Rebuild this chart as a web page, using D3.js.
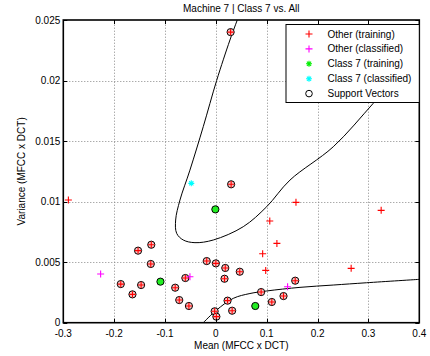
<!DOCTYPE html>
<html>
<head>
<meta charset="utf-8">
<script src="https://cdn.jsdelivr.net/npm/d3@7"></script>
<style>
body { margin:0; background:#fff; }
text { font-family: "Liberation Sans", Arial, Helvetica, sans-serif; }
</style>
</head>
<body>
<div id="container"></div>
<script>
// data (mean, variance)
const otherTrainSV = [
  [0.029,0.0240],[0.030,0.01143],[-0.153,0.00595],[-0.127,0.00644],[-0.128,0.00485],
  [-0.187,0.00319],[-0.164,0.00234],[-0.147,0.00311],[-0.080,0.00289],[-0.060,0.00369],
  [-0.072,0.00187],[-0.053,0.00138],[-0.018,0.00509],[0.000,0.00490],[0.0185,0.00452],
  [0.017,0.00363],[0.047,0.00421],[-0.0024,0.00094],[0.001,0.0005],[0.023,0.00182],
  [0.032,0.00099],[0.089,0.00253],[0.110,0.00171],[0.133,0.0022],[0.156,0.00347]
];
const otherTrain = [
  [-0.290,0.01013],[0.1575,0.00994],[0.106,0.0084],[0.120,0.00655],[0.092,0.0057],
  [0.098,0.00432],[0.266,0.00449],[0.325,0.00928]
];
const otherClassified = [[-0.2266,0.00402],[-0.051,0.0038],[0.141,0.00297]];
const class7Train = [[-0.001,0.00936],[-0.109,0.00339],[0.0775,0.00138]];
const class7Classified = [[-0.0483,0.01151]];

// decision boundary
const boundaryUpper = [
  [0.0421,0.0250],[0.0277,0.02335],[0.0015,0.0200],[-0.0248,0.01619],[-0.0510,0.01260],
  [-0.0706,0.01013],[-0.0791,0.00848],[-0.0771,0.00738],[-0.0641,0.00683],[-0.0411,0.00661],
  [-0.0051,0.00683],[0.0539,0.00793],[0.0999,0.00958],[0.1457,0.01178],[0.2308,0.01453],
  [0.3095,0.01812],[0.36,0.0205]
];
const boundaryLower = [
  [-0.0248,0],[0.0015,0.00105],[0.0342,0.00201],[0.067,0.00241],[0.0999,0.00262],
  [0.1654,0.00292],[0.2308,0.00311],[0.2965,0.0033],[0.4,0.00358]
];

const xTicks = [-0.3,-0.2,-0.1,0,0.1,0.2,0.3,0.4];
const yTicks = [0,0.005,0.01,0.015,0.02,0.025];
const legendLabels = ["Other (training)","Other (classified)","Class 7 (training)","Class 7 (classified)","Support Vectors"];

const width = 430, height = 356;
const m = {left:63.3, top:20, right:10.7, bottom:33.3};

const x = d3.scaleLinear().domain([-0.3,0.4]).range([m.left, width-m.right]);
const y = d3.scaleLinear().domain([0,0.025]).range([height-m.bottom, m.top]);
const px = v => Math.round(v)+0.5;

const svg = d3.select("#container")
  .append("svg")
    .attr("width",width)
    .attr("height",height);

// grid
const grid = svg.append("g")
    .attr("stroke","#888")
    .attr("stroke-width",1)
    .attr("stroke-dasharray","1,2");
grid.selectAll("line.gx")
  .data(xTicks.slice(1,-1))
  .join("line")
    .attr("class","gx")
    .attr("x1",d=>px(x(d))).attr("x2",d=>px(x(d)))
    .attr("y1",y(0)).attr("y2",y(0.025));
grid.selectAll("line.gy")
  .data(yTicks.slice(1,-1))
  .join("line")
    .attr("class","gy")
    .attr("y1",d=>px(y(d))).attr("y2",d=>px(y(d)))
    .attr("x1",x(-0.3)).attr("x2",x(0.4));

// boundaries
const line = d3.line().x(d=>x(d[0])).y(d=>y(d[1])).curve(d3.curveCatmullRom);
svg.append("defs").append("clipPath").attr("id","clip")
  .append("rect").attr("x",x(-0.3)).attr("y",y(0.025))
  .attr("width",x(0.4)-x(-0.3)).attr("height",y(0)-y(0.025));
svg.append("g")
    .attr("clip-path","url(#clip)")
    .attr("fill","none")
    .attr("stroke","#000")
    .attr("stroke-width",1)
  .selectAll("path")
  .data([boundaryUpper,boundaryLower])
  .join("path")
    .attr("d",line);

function plus(g, data, color, r) {
  g.selectAll("path.p"+color.slice(1))
    .data(data)
    .join("path")
      .attr("d",d=>`M${x(d[0])-r},${y(d[1])}h${2*r}M${x(d[0])},${y(d[1])-r}v${2*r}`)
      .attr("stroke",color)
      .attr("stroke-width",1.1)
      .attr("fill","none");
}
function star(g, cx, cy, color, r) {
  const a = r*0.7;
  g.append("path")
    .attr("d",`M${cx-r},${cy}h${2*r}M${cx},${cy-r}v${2*r}M${cx-a},${cy-a}l${2*a},${2*a}M${cx-a},${cy+a}l${2*a},${-2*a}`)
    .attr("stroke",color).attr("stroke-width",1.1).attr("fill","none");
}

const marks = svg.append("g");
// support vector circles
marks.selectAll("circle.sv")
  .data(otherTrainSV)
  .join("circle")
    .attr("class","sv")
    .attr("cx",d=>x(d[0])).attr("cy",d=>y(d[1]))
    .attr("r",3.6)
    .attr("fill","#f7c4c4")
    .attr("stroke","#000")
    .attr("stroke-width",1);
plus(marks, otherTrainSV, "#ff0000", 3.2);
plus(marks, otherTrain, "#ff0000", 3.5);
plus(marks, otherClassified, "#ff00ff", 3.5);
marks.selectAll("circle.c7")
  .data(class7Train)
  .join("circle")
    .attr("class","c7")
    .attr("cx",d=>x(d[0])).attr("cy",d=>y(d[1]))
    .attr("r",3.6)
    .attr("fill","#22ee22")
    .attr("stroke","#000")
    .attr("stroke-width",1);
class7Classified.forEach(d=>star(marks, x(d[0]), y(d[1]), "#00ffff", 3));

// axes box + inward ticks
const ax = svg.append("g").attr("font-size",10).attr("fill","#000");
ax.append("rect")
  .attr("x",x(-0.3)).attr("y",y(0.025))
  .attr("width",x(0.4)-x(-0.3)).attr("height",y(0)-y(0.025))
  .attr("fill","none").attr("stroke","#000").attr("stroke-width",1.6);
ax.selectAll("path.xt")
  .data(xTicks)
  .join("path")
    .attr("d",d=>`M${px(x(d))},${y(0)}v-4M${px(x(d))},${y(0.025)}v4`)
    .attr("stroke","#000");
ax.selectAll("path.yt")
  .data(yTicks)
  .join("path")
    .attr("class","yt")
    .attr("d",d=>`M${x(-0.3)},${px(y(d))}h4M${x(0.4)},${px(y(d))}h-4`)
    .attr("stroke","#000");
ax.selectAll("text.xl")
  .data(xTicks)
  .join("text")
    .attr("class","xl")
    .attr("x",d=>x(d)).attr("y",y(0)+14)
    .attr("text-anchor","middle")
    .text(d=>String(+d.toFixed(1)));
ax.selectAll("text.yl")
  .data(yTicks)
  .join("text")
    .attr("class","yl")
    .attr("x",x(-0.3)-3).attr("y",d=>y(d)+3.5)
    .attr("text-anchor","end")
    .text(d=>String(+d.toFixed(3)));

svg.append("text")
  .attr("x",(x(-0.3)+x(0.4))/2).attr("y",12)
  .attr("text-anchor","middle").attr("font-size",10)
  .text("Machine 7 | Class 7 vs. All");
svg.append("text")
  .attr("x",(x(-0.3)+x(0.4))/2).attr("y",349)
  .attr("text-anchor","middle").attr("font-size",10)
  .text("Mean (MFCC x DCT)");
svg.append("text")
  .attr("transform",`translate(25,${(y(0)+y(0.025))/2}) rotate(-90)`)
  .attr("text-anchor","middle").attr("font-size",10)
  .text("Variance (MFCC x DCT)");

// legend
const lg = svg.append("g").attr("transform","translate(286,24.5)");
lg.append("rect").attr("width",133.3).attr("height",78)
  .attr("fill","#fff").attr("stroke","#000").attr("stroke-width",1);
const rows = lg.selectAll("g.row")
  .data(legendLabels)
  .join("g")
    .attr("transform",(d,i)=>`translate(0,${9.5+i*14.9})`);
rows.append("text")
  .attr("x",41.5).attr("y",3.5).attr("font-size",10)
  .text(d=>d);
rows.each(function(d,i){
  const g = d3.select(this);
  if(i===0||i===1){
    g.append("path").attr("d","M19.5,0h7M23,-3.5v7")
      .attr("stroke",i===0?"#ff0000":"#ff00ff").attr("stroke-width",1.1);
  } else if(i===2||i===3){
    star(g, 23, 0, i===2?"#00ee00":"#00ffff", 3);
  } else {
    g.append("circle").attr("cx",23).attr("cy",0).attr("r",3.3)
      .attr("fill","none").attr("stroke","#000");
  }
});
</script>
</body>
</html>
